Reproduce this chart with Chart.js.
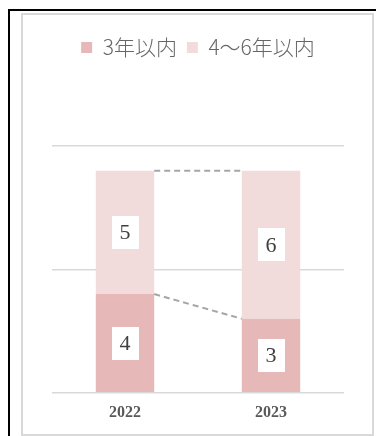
<!DOCTYPE html>
<html>
<head>
<meta charset="utf-8">
<script src="https://cdn.jsdelivr.net/npm/chart.js@4/dist/chart.umd.min.js"></script>
<style>
  html, body { margin: 0; padding: 0; background: #fff; }
  body { width: 376px; height: 436px; position: relative; overflow: hidden; }
  .outer { position: absolute; left: 8px; top: 9px; width: 380px; height: 440px;
           border-top: 2px solid #000; border-left: 2px solid #000; box-sizing: border-box; }
  .frame { position: absolute; left: 21px; top: 13px; width: 353px; height: 423px;
           border: 2px solid #d9d9d9; box-sizing: border-box; }
  #chart { position: absolute; left: 0; top: 0; }
</style>
</head>
<body>
<div class="outer"></div>
<div class="frame"></div>
<canvas id="chart" width="376" height="436"></canvas>
<script>
const years = ["2022", "2023"];
const seriesNames = ["3年以内", "4～6年以内"];
const within3 = [4, 3];
const within4to6 = [5, 6];
const yTicks = [0, 5, 10];

const colors = ["#e6b9b8", "#f2dcdb"];

// series lines between stacked bars (dashed, like Excel)
const seriesLines = {
  id: "seriesLines",
  afterDatasetsDraw(chart) {
    const ctx = chart.ctx;
    ctx.save();
    ctx.setLineDash([6, 4]);
    ctx.strokeStyle = "#a6a6a6";
    ctx.lineWidth = 2;
    chart.data.datasets.forEach((ds, i) => {
      const bars = chart.getDatasetMeta(i).data;
      for (let j = 0; j < bars.length - 1; j++) {
        const a = bars[j], b = bars[j + 1];
        ctx.beginPath();
        ctx.moveTo(a.x + a.width / 2, a.y);
        ctx.lineTo(b.x - b.width / 2, b.y);
        ctx.stroke();
      }
    });
    ctx.restore();
  }
};

// white boxed value labels
const boxLabels = {
  id: "boxLabels",
  afterDatasetsDraw(chart) {
    const ctx = chart.ctx;
    ctx.save();
    ctx.font = "22px 'Liberation Serif', serif";
    ctx.textAlign = "center";
    ctx.textBaseline = "middle";
    chart.data.datasets.forEach((ds, i) => {
      chart.getDatasetMeta(i).data.forEach((el, j) => {
        const cx = el.x, cy = (el.y + el.base) / 2;
        const w = 27, h = 33;
        ctx.fillStyle = "#fff";
        ctx.fillRect(Math.round(cx - w / 2), Math.round(cy - h / 2), w, h);
        ctx.fillStyle = "#404040";
        ctx.fillText(String(ds.data[j]), cx, cy + 1);
      });
    });
    ctx.restore();
  }
};

// extra space below legend
const legendGap = {
  id: "legendGap",
  beforeInit(chart) {
    const fit = chart.legend.fit;
    chart.legend.fit = function () {
      fit.bind(chart.legend)();
      this.height += 78;
    };
  }
};

new Chart(document.getElementById("chart"), {
  type: "bar",
  data: {
    labels: years,
    datasets: [
      { label: seriesNames[0], data: within3, backgroundColor: colors[0] },
      { label: seriesNames[1], data: within4to6, backgroundColor: colors[1] },
    ],
  },
  options: {
    responsive: false,
    animation: false,
    layout: { padding: { left: 52, right: 32, top: 27, bottom: 4 } },
    datasets: { bar: { categoryPercentage: 0.4, barPercentage: 1 } },
    plugins: {
      legend: {
        position: "top",
        labels: {
          boxWidth: 11,
          boxHeight: 11,
          padding: 10,
          color: "#666666",
          font: { family: "'Noto Sans CJK JP', sans-serif", size: 21, weight: 300 },
        },
      },
      tooltip: { enabled: false },
    },
    scales: {
      x: {
        stacked: true,
        grid: { display: false, drawTicks: false },
        border: { display: false },
        ticks: {
          color: "#595959",
          padding: 10,
          font: { family: "'Liberation Serif', serif", size: 16, weight: "bold" },
        },
      },
      y: {
        stacked: true,
        min: yTicks[0],
        max: yTicks[yTicks.length - 1],
        afterBuildTicks(scale) { scale.ticks = yTicks.map(v => ({ value: v })); },
        ticks: { display: false },
        border: { display: false },
        grid: { color: "#d9d9d9", lineWidth: 1.5, drawTicks: false },
      },
    },
  },
  plugins: [seriesLines, boxLabels, legendGap],
});
</script>
</body>
</html>
